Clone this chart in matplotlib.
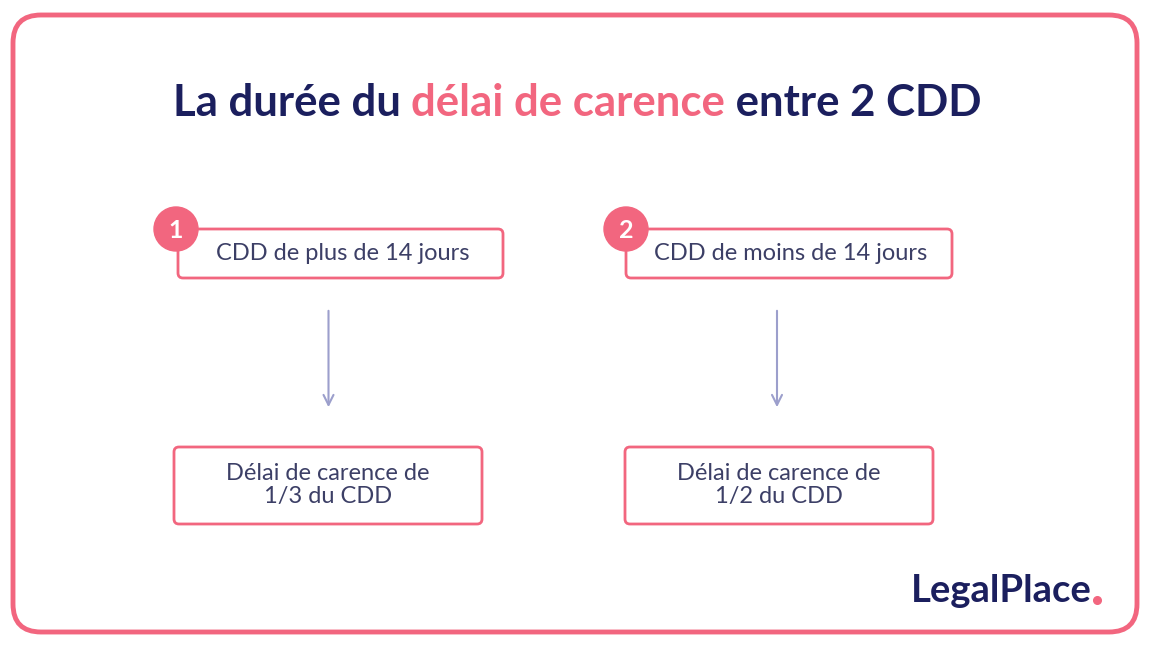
import matplotlib.pyplot as plt
from matplotlib.patches import FancyBboxPatch, Circle

NAVY = "#1B1F5E"
PINK = "#F2667F"
TEXT = "#3C3F66"
ARROW = "#9C9FCC"

# Contenu
title_parts = ["La durée du ", "délai de carence", " entre 2 CDD"]
steps = ["1", "2"]
top_labels = ["CDD de plus de 14 jours", "CDD de moins de 14 jours"]
bottom_labels = ["Délai de carence de\n1/3 du CDD", "Délai de carence de\n1/2 du CDD"]

fig = plt.figure(figsize=(11.5, 6.47), dpi=100)
ax = fig.add_axes([0, 0, 1, 1])
ax.set_xlim(0, 1150)
ax.set_ylim(647, 0)
ax.axis("off")

def rbox(x0, y0, x1, y1, r, lw):
    ax.add_patch(FancyBboxPatch((x0 + r, y0 + r), x1 - x0 - 2 * r, y1 - y0 - 2 * r,
                                boxstyle=f"round,pad={r}", fc="white", ec=PINK, lw=lw))

rbox(13, 15, 1137, 632, 28, 3.5)

# titre en trois morceaux
fig.canvas.draw()
rend = fig.canvas.get_renderer()
widths = []
for t in title_parts:
    tt = ax.text(0, 0, t, fontsize=31.5, fontweight="bold", family="Lato")
    widths.append(tt.get_window_extent(rend).width)
    tt.remove()
x = 577 - sum(widths) / 2
for t, w, c in zip(title_parts, widths, [NAVY, PINK, NAVY]):
    ax.text(x, 103, t, fontsize=31.5, fontweight="bold", family="Lato", color=c, va="center")
    x += w

tops = [(178, 503), (626, 952)]
bottoms = [(174, 482), (625, 933)]
for i in range(2):
    x0, x1 = tops[i]
    rbox(x0, 229, x1, 278, 5, 2)
    ax.text((x0 + x1) / 2 + 2, 254, top_labels[i], fontsize=17, family="Lato",
            color=TEXT, ha="center", va="center")
    cx = 176 if i == 0 else 626
    ax.add_patch(Circle((cx, 229), 22, color=PINK, zorder=5))
    ax.text(cx, 230, steps[i], fontsize=18, fontweight="bold",
            family="Lato", color="white", ha="center", va="center", zorder=6)
    ax_x = (x0 + x1) / 2 - 12
    ax.annotate("", xy=(ax_x, 410), xytext=(ax_x, 308),
                arrowprops=dict(arrowstyle="->", color=ARROW, lw=1.5, mutation_scale=18))
    b0, b1 = bottoms[i]
    rbox(b0, 447, b1, 524, 5, 2)
    ax.text((b0 + b1) / 2, 485, bottom_labels[i], fontsize=17, family="Lato",
            color=TEXT, ha="center", va="center", linespacing=1.15)

ax.text(1092, 591, "LegalPlace", fontsize=27.5, fontweight="bold", family="Lato",
        color=NAVY, ha="right", va="center")
ax.plot([1097], [600], "o", color=PINK, ms=5.5)

fig.savefig("out.png", dpi=100)
